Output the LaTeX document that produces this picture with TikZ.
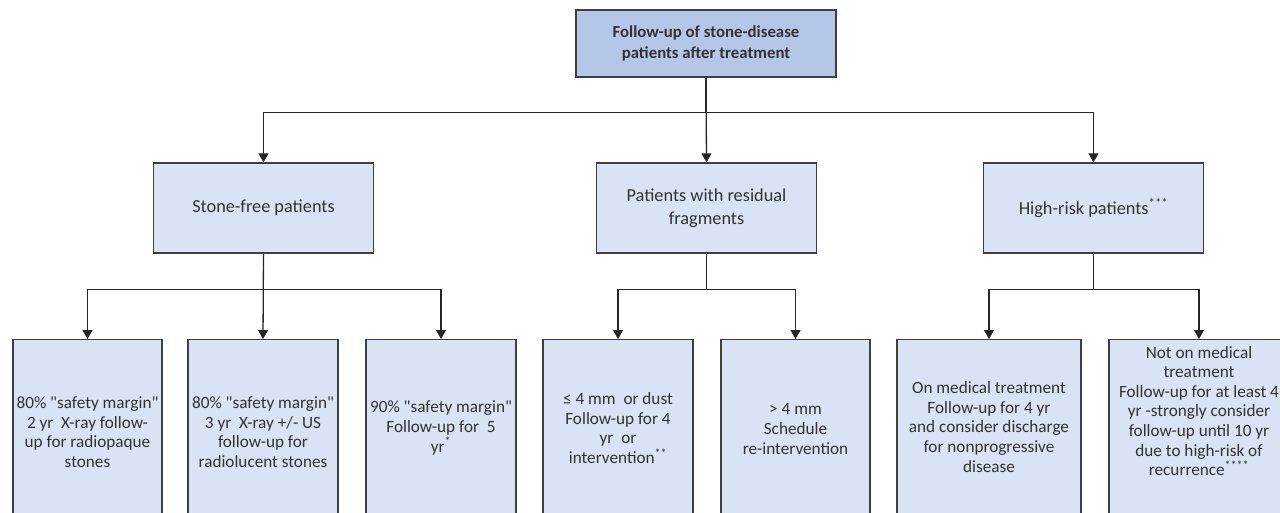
\documentclass[tikz,border=0pt]{standalone}
\usepackage{fontspec}
% no TeX input mapping, so " stays a straight quote
\setmainfont{Carlito}[Ligatures=TeXOff]
\usetikzlibrary{arrows.meta}
\definecolor{boxfill}{HTML}{DAE3F3}
\definecolor{topfill}{HTML}{B4C7E7}
\definecolor{edgegray}{HTML}{3F3F3F}
\definecolor{txtgray}{HTML}{333333}
\begin{document}
\begin{tikzpicture}[x=1pt,y=-1pt,
  box/.style={draw=edgegray, line width=1.4pt, fill=boxfill, inner sep=0pt},
  topbox/.style={box, fill=topfill, minimum width=260pt, minimum height=67pt,
    align=center, text=txtgray, font=\fontsize{16.8}{21}\selectfont\bfseries},
  midbox/.style={box, minimum width=220pt, minimum height=90pt,
    align=center, text=txtgray, font=\fontsize{18.3}{22.5}\selectfont},
  leafbox/.style={box, anchor=north, minimum height=200pt},
  leaftext/.style={align=center, inner sep=0pt, text=txtgray,
    font=\fontsize{17.2}{19.6}\selectfont},
  link/.style={line width=1.3pt, draw=black!85},
  arrow/.style={link, -{Triangle[width=10pt,length=9pt]}}
]
\useasboundingbox (0,0) rectangle (1280,513);
\clip (0,0) rectangle (1280,513);

% root and first level
\node[topbox] (root) at (706,43.5) {Follow-up of stone-disease\\patients after treatment};
\node[midbox] (free)  at (263.5,208) {Stone-free patients};
\node[midbox] (resid) at (706.5,208) {Patients with residual\\fragments};
\node[midbox] (high)  at (1093.5,208) {High-risk patients\textsuperscript{***}};

% leaf boxes (run off the bottom edge)
\node[leafbox, minimum width=149pt] (l1) at (87.5,339) {};
\node[leafbox, minimum width=150pt] (l2) at (263,339) {};
\node[leafbox, minimum width=150pt] (l3) at (441,339) {};
\node[leafbox, minimum width=150pt] (l4) at (618,339) {};
\node[leafbox, minimum width=149pt] (l5) at (795.5,339) {};
\node[leafbox, minimum width=184pt] (l6) at (989,339) {};
\node[leafbox, minimum width=180pt] (l7) at (1199,339) {};

% leaf texts
\node[leaftext] (t1) at (87.5,432) {80\% "safety margin"\\2 yr~~X-ray follow-\\up for radiopaque\\stones};
\node[leaftext] (t2) at (263,432) {80\% "safety margin"\\3 yr~~X-ray +/- US\\follow-up for\\radiolucent stones};
\node[leaftext] (t3) at (441,428) {90\% "safety margin"\\Follow-up for~~5\\yr\textsuperscript{*}};
\node[leaftext] (t4) at (618,428) {≤ 4 mm~~or dust\\Follow-up for 4\\yr~~or\\intervention\textsuperscript{**}};
\node[leaftext] (t5) at (795.5,429) {> 4 mm\\Schedule\\re-intervention};
\node[leaftext] (t6) at (989,427) {On medical treatment\\Follow-up for 4 yr\\and consider discharge\\for nonprogressive\\disease};
\node[leaftext] (t7) at (1199,411) {Not on medical\\treatment\\Follow-up for at least 4\\yr -strongly consider\\follow-up until 10 yr\\due to high-risk of\\recurrence\textsuperscript{****}};

% connectors: root to first level
\draw[arrow] (root.south) -- ++(0,35) -| (free.north);
\draw[arrow] (root.south) -- (resid.north);
\draw[arrow] (root.south) -- ++(0,35) -| (high.north);

% connectors: first level to leaves
\draw[arrow] (free.south) -- ++(0,36) -| (l1.north);
\draw[arrow] (free.south) -- (l2.north);
\draw[arrow] (free.south) -- ++(0,36) -| (l3.north);
\draw[arrow] (resid.south) -- ++(0,36) -| (l4.north);
\draw[arrow] (resid.south) -- ++(0,36) -| (l5.north);
\draw[arrow] (high.south) -- ++(0,36) -| (l6.north);
\draw[arrow] (high.south) -- ++(0,36) -| (l7.north);
\end{tikzpicture}
\end{document}
